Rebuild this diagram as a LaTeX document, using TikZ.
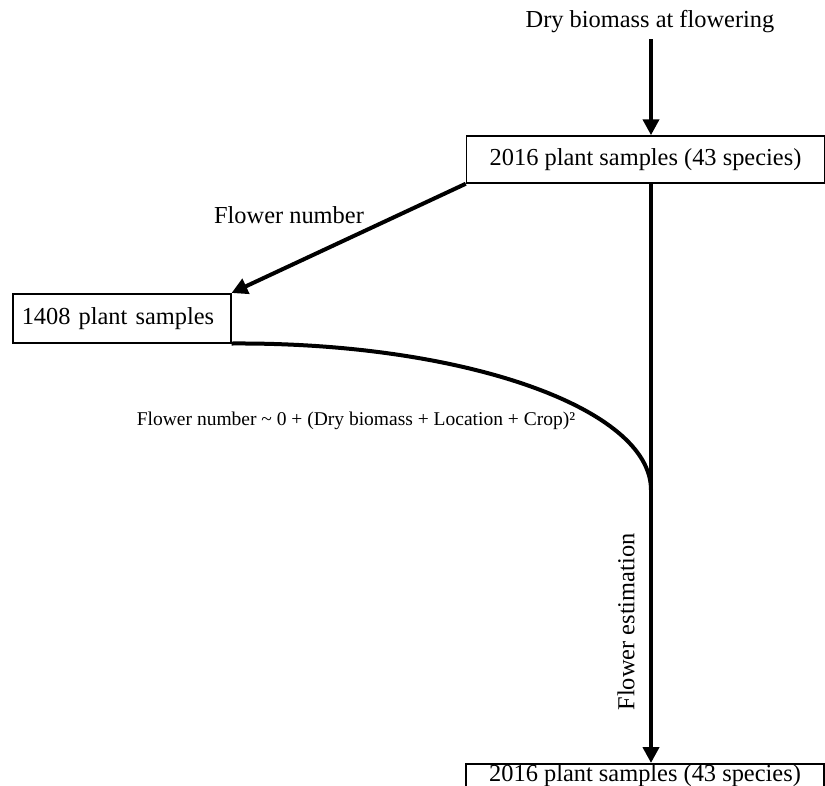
\documentclass[tikz,border=0pt]{standalone}
\usepackage{fontspec}
\setmainfont{Liberation Serif}
\usetikzlibrary{arrows.meta}
\begin{document}
\begin{tikzpicture}[x=1pt,y=-1pt,
  box/.style={draw,line width=1.5pt,inner sep=0pt,font=\fontsize{24.4}{28}\selectfont},
  lbl/.style={inner sep=0pt,font=\fontsize{24.4}{28}\selectfont},
  arr/.style={line width=4pt,-{Triangle[length=16pt,width=16pt]}}]
\useasboundingbox (0,0) rectangle (825,785);
\node[lbl] (top) at (650,22) {Dry biomass at flowering};
\node[box,minimum width=358pt,minimum height=47pt] (b1) at (645.5,159.5) {2016 plant samples (43 species)};
\node[box,minimum width=218pt,minimum height=49pt,anchor=north west,text width=200pt,align=left] (b2) at (12,293) {1408 plant samples};
\node[box,minimum width=358pt,anchor=north,text height=16.5pt,text depth=30pt,inner ysep=1pt] (b3) at (645,763) {2016 plant samples (43 species)};
\coordinate (j) at (651,490);
\draw[arr] (top.south -| 651,0) ++(0,6) -- (b1.north -| 651,0);
\draw[arr] (b1.south -| 651,0) -- (b3.north -| 651,0);
\draw[arr] (b1.south west) -- (b2.north east);
\draw[line width=4pt] (b2.south east) .. controls (462.5,342) and (651,408) .. (j);
\node[lbl] (fn) at (289,215) {Flower number};
\node[inner sep=0pt,font=\fontsize{19.5}{22}\selectfont] (form) at (356,421) {Flower number \textasciitilde{} 0 + (Dry biomass + Location + Crop)²};
\node[lbl,rotate=90] (fe) at (626,622) {Flower estimation};
\end{tikzpicture}
\end{document}
